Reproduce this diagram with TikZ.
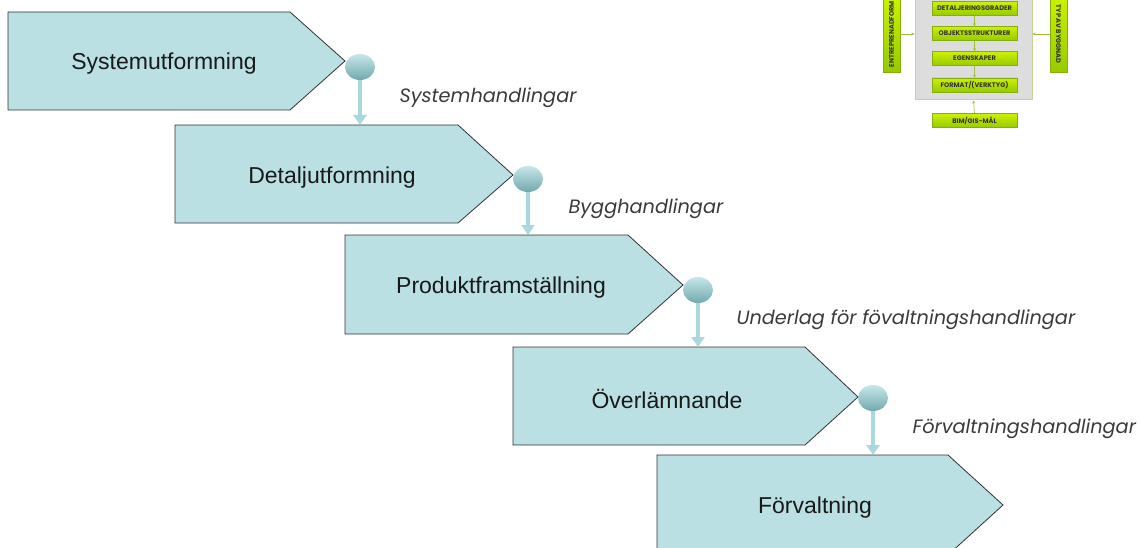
\documentclass[tikz,border=0pt]{standalone}
\usepackage{fontspec}
\setmainfont{Liberation Sans}
\newfontfamily\gothic{Poppins}
\usetikzlibrary{arrows.meta,shapes.geometric}
\definecolor{chevfill}{HTML}{BBE0E3}
\definecolor{arrowblue}{HTML}{A9D9DD}
\definecolor{balltop}{HTML}{C6E7EA}
\definecolor{ballbot}{HTML}{72A9AE}
\definecolor{greenA}{HTML}{CCF200}
\definecolor{greenB}{HTML}{96CA00}
\definecolor{greenD}{HTML}{86AE10}
\definecolor{boxgray}{HTML}{DDDDDD}
\definecolor{boxedge}{HTML}{C3D39A}
\definecolor{italgray}{HTML}{3A3A3A}
\begin{document}
\begin{tikzpicture}[x=1pt,y=-1pt,
  chev/.style={fill=chevfill, draw=black!80, line width=0.8pt},
  steplabel/.style={font=\fontsize{23}{26}\selectfont, text=black!90},
  flowlabel/.style={font=\gothic\itshape\fontsize{19.3}{21}\selectfont, text=italgray, anchor=west},
  ball/.style={ellipse, minimum width=30pt, minimum height=26pt, inner sep=0pt, top color=balltop, bottom color=ballbot, draw=none},
  flow/.style={draw=arrowblue, line width=3.5pt, -{Triangle[width=13pt,length=10pt]}},
  gbtn/.style={rectangle, minimum width=85pt, minimum height=14pt, inner sep=0pt, top color=greenA, bottom color=greenB, draw=greenD, line width=0.6pt, font=\gothic\bfseries\fontsize{6.6}{7}\selectfont, text=black!80},
  gbar/.style={rectangle, minimum height=17pt, inner sep=0pt, top color=greenA, bottom color=greenB, draw=greenD, line width=0.6pt, font=\gothic\bfseries\fontsize{6.6}{7}\selectfont, text=black!80},
  small/.style={draw=greenD!80, line width=0.6pt, -{Stealth[length=3pt,width=3pt]}}
]
\useasboundingbox (0,0) rectangle (1140,548);
\clip (0,0) rectangle (1140,548);

% chevrons
\path[chev] (8,12) -- (290,12) -- (345,61) -- (290,110) -- (8,110) -- cycle;
\path[chev] (175,125) -- (458,125) -- (513,175) -- (458,223) -- (175,223) -- cycle;
\path[chev] (345,235) -- (628,235) -- (683,285) -- (628,334) -- (345,334) -- cycle;
\path[chev] (513,347) -- (805,347) -- (858,397) -- (805,445) -- (513,445) -- cycle;
\path[chev] (657,455) -- (948,455) -- (1003,505) -- (948,555) -- (657,555) -- cycle;

\node[steplabel] (s1) at (164,64) {Systemutformning};
\node[steplabel] (s2) at (332,178) {Detaljutformning};
\node[steplabel] (s3) at (501,288) {Produktframställning};
\node[steplabel] (s4) at (667,399) {Överlämnande};
\node[steplabel] (s5) at (815,508) {Förvaltning};

% balls
\node[ball] (b1) at (360,67) {};
\node[ball] (b2) at (528,179) {};
\node[ball] (b3) at (698,290) {};
\node[ball] (b4) at (873,398) {};

\coordinate (t2) at (360,125);
\coordinate (t3) at (528,235);
\coordinate (t4) at (698,347);
\coordinate (t5) at (873,455);

\draw[flow] (b1.south) -- (t2);
\draw[flow] (b2.south) -- (t3);
\draw[flow] (b3.south) -- (t4);
\draw[flow] (b4.south) -- (t5);

\node[flowlabel] (l1) at (396,98) {Systemhandlingar};
\node[flowlabel] (l2) at (565,209) {Bygghandlingar};
\node[flowlabel] (l3) at (733,320) {Underlag för fövaltningshandlingar};
\node[flowlabel] (l4) at (909,429) {Förvaltningshandlingar};

% inset
\node[rectangle, minimum width=117pt, minimum height=110pt, inner sep=0pt, fill=boxgray, draw=boxedge, line width=1pt] (gbox) at (973.5,45) {};
\node[gbtn] (g1) at (974.5,8.5) {DETALJERINGSGRADER};
\node[gbtn] (g2) at (974.5,33.5) {OBJEKTSSTRUKTURER};
\node[gbtn] (g3) at (974.5,58.5) {EGENSKAPER};
\node[gbtn] (g4) at (974.5,85) {FORMAT/(VERKTYG)};
\node[gbtn] (g5) at (974.5,120.5) {BIM/GIS-MÅL};
\node[gbar, minimum width=76pt, rotate=90] (eb) at (891.5,34) {ENTREPRENADFORM};
\node[gbar, minimum width=76pt, rotate=-90] (tb) at (1058.5,34) {TYP AV BYGGNAD};
\draw[small] (g1.south) -- (g2.north);
\draw[small] (g2.south) -- (g3.north);
\draw[small] (g3.south) -- (g4.north);
\draw[small] (g5.north) -- (gbox.south);
\draw[small] (eb.south) -- (gbox.west |- eb.south);
\draw[small] (tb.south) -- (gbox.east |- tb.south);
\end{tikzpicture}
\end{document}
